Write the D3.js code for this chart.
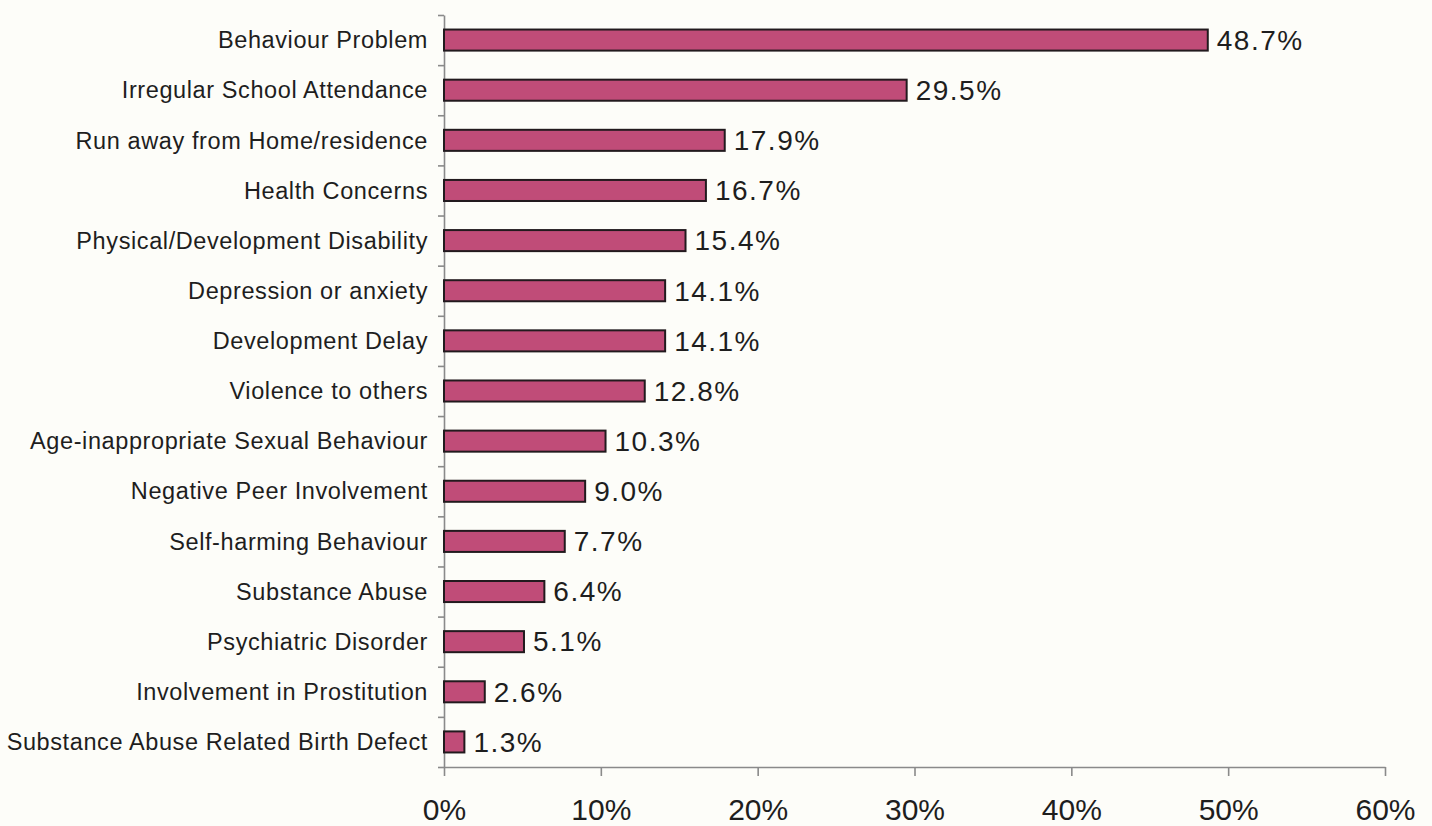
<!DOCTYPE html>
<html>
<head>
<meta charset="utf-8">
<script src="https://cdn.jsdelivr.net/npm/d3@7"></script>
<style>
  html, body { margin: 0; padding: 0; background: #fdfdf9; }
  svg { display: block; }
  text { font-family: "Liberation Sans", Arial, sans-serif; fill: #1e1e1e; }
</style>
</head>
<body>
<svg id="chart" width="1432" height="826"></svg>
<script>
// Reasons recorded, share of cases (%)
const categories = [
  "Behaviour Problem",
  "Irregular School Attendance",
  "Run away from Home/residence",
  "Health Concerns",
  "Physical/Development Disability",
  "Depression or anxiety",
  "Development Delay",
  "Violence to others",
  "Age-inappropriate Sexual Behaviour",
  "Negative Peer Involvement",
  "Self-harming Behaviour",
  "Substance Abuse",
  "Psychiatric Disorder",
  "Involvement in Prostitution",
  "Substance Abuse Related Birth Defect"
];
const values = [48.7, 29.5, 17.9, 16.7, 15.4, 14.1, 14.1, 12.8, 10.3, 9.0, 7.7, 6.4, 5.1, 2.6, 1.3];
const xTicks = [0, 10, 20, 30, 40, 50, 60];

const svg = d3.select("#chart");
const plotLeft = 444, plotRight = 1385, plotTop = 15, plotBottom = 767;

const x = d3.scaleLinear().domain([0, 60]).range([plotLeft, plotRight]);
const y = d3.scaleBand().domain(categories).range([plotTop, plotBottom])
  .paddingInner(0.58).paddingOuter(0.29);
// boundary positions between category slots
const slots = d3.scaleLinear().domain([0, categories.length]).range([plotTop, plotBottom]);

// x axis
const xAxis = svg.append("g")
  .attr("transform", `translate(0,${plotBottom})`)
  .call(d3.axisBottom(x).tickValues(xTicks).tickFormat(d => d + "%").tickSize(9).tickSizeOuter(0));
xAxis.select(".domain").attr("stroke", "#8a8a8a").attr("stroke-width", 1.6);
xAxis.selectAll(".tick line").attr("stroke", "#8a8a8a").attr("stroke-width", 1.6);
xAxis.selectAll(".tick text").attr("font-size", 30).attr("dy", 0).attr("y", 53)
  .attr("fill", "#1e1e1e").attr("font-family", "'Liberation Sans', Arial, sans-serif");

// y axis with ticks at slot boundaries
const yAxis = svg.append("g")
  .attr("transform", `translate(${plotLeft},0)`)
  .call(d3.axisLeft(slots).tickValues(d3.range(0, categories.length + 1)).tickFormat("").tickSize(6).tickSizeOuter(0));
yAxis.select(".domain").attr("stroke", "#8a8a8a").attr("stroke-width", 1.6);
yAxis.selectAll(".tick line").attr("stroke", "#8a8a8a").attr("stroke-width", 1.6);

// category labels
svg.append("g").selectAll("text")
  .data(categories)
  .join("text")
  .attr("x", plotLeft - 16)
  .attr("y", d => y(d) + y.bandwidth() / 2)
  .attr("dy", "0.35em")
  .attr("text-anchor", "end")
  .attr("font-size", 23.5)
  .attr("letter-spacing", 0.6)
  .text(d => d);

// bars
svg.append("g").selectAll("rect")
  .data(values)
  .join("rect")
  .attr("x", x(0))
  .attr("y", (d, i) => y(categories[i]))
  .attr("width", d => x(d) - x(0))
  .attr("height", y.bandwidth())
  .attr("fill", "#c04c78")
  .attr("stroke", "#221a1e")
  .attr("stroke-width", 2);

// value labels
svg.append("g").selectAll("text")
  .data(values)
  .join("text")
  .attr("x", d => x(d) + 9)
  .attr("y", (d, i) => y(categories[i]) + y.bandwidth() / 2)
  .attr("dy", "0.35em")
  .attr("font-size", 28)
  .attr("letter-spacing", 1.5)
  .text(d => d.toFixed(1) + "%");
</script>
</body>
</html>
